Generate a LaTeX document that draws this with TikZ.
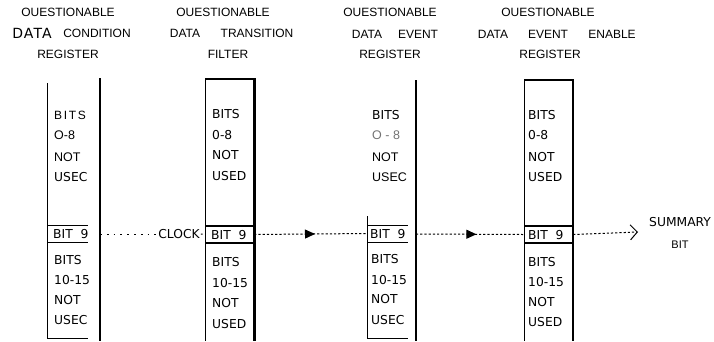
\documentclass[tikz,border=0pt]{standalone}
\usepackage{fontspec}
\setmainfont{Liberation Sans}
\newfontfamily\drafted{DejaVu Sans}
\newfontfamily\draftedwide[LetterSpace=8]{DejaVu Sans}
\newfontfamily\printwide[LetterSpace=14]{Liberation Sans}
\usetikzlibrary{arrows.meta,decorations.markings}

\tikzset{
  head/.style={inner sep=0pt, font=\fontsize{12}{12}\selectfont},
  prt/.style={inner sep=0pt, anchor=west, font=\fontsize{12.5}{13}\selectfont},
  drf/.style={inner sep=0pt, anchor=west, font=\drafted\fontsize{12.3}{13}\selectfont},
  wall/.style={line width=0.9pt},
  rowrule/.style={line width=1.5pt},
  flow/.style={line width=1pt, dash pattern=on 2.2pt off 2pt},
  sparse/.style={line width=1pt, dash pattern=on 1.8pt off 5pt},
  midtri/.style={postaction={decorate},
    decoration={markings, mark=at position #1 with {\arrow{Triangle[length=10pt,width=9pt]}}}},
  bitrow/.style={inner sep=0pt, minimum height=17pt}
}

\begin{document}
\begin{tikzpicture}[x=1pt, y=-1pt]
\useasboundingbox (0,0) rectangle (714,341);

% ---- column headings ----
\node[head] (h1a) at (68,12) {OUESTIONABLE};
\node[inner sep=0pt, font=\draftedwide\fontsize{14}{14}\selectfont] (h1b) at (32,33) {DATA};
\node[head] (h1c) at (97,33) {CONDITION};
\node[head] (h1d) at (68,54) {REGISTER};

\node[head] (h2a) at (223,12) {OUESTIONABLE};
\node[head] (h2b) at (185,33) {DATA};
\node[head] (h2c) at (257,33) {TRANSITION};
\node[head] (h2d) at (228,54) {FILTER};

\node[head] (h3a) at (390,12) {OUESTIONABLE};
\node[head] (h3b) at (367,34) {DATA};
\node[head] (h3c) at (418,34) {EVENT};
\node[head] (h3d) at (390,54) {REGISTER};

\node[head] (h4a) at (548,12) {OUESTIONABLE};
\node[head] (h4b) at (493,34) {DATA};
\node[head] (h4c) at (548,34) {EVENT};
\node[head] (h4d) at (612,34) {ENABLE};
\node[head] (h4e) at (550,54) {REGISTER};

% ---- condition register ----
\draw[wall] (47,83) -- (47,338) -- (88,338);
\draw[wall] (47,225) -- (88,225);
\draw[wall] (47,242) -- (88,242);
\draw[line width=2pt] (100,78) -- (100,341);
\node[bitrow, minimum width=41pt] (bit1) at (67.5,233.5) {};
\node[inner sep=0pt, anchor=west, font=\printwide\fontsize{12}{13}\selectfont] (c1a) at (54,115) {BITS};
\node[prt] (c1b) at (54,135) {O-8};
\node[prt] (c1c) at (54,157) {NOT};
\node[drf] (c1d) at (54,177) {USEC};
\node[drf] (c1e) at (53,234) {BIT\ \ 9};
\node[drf] (c1f) at (54,260) {BITS};
\node[drf] (c1g) at (54,280) {10-15};
\node[drf] (c1h) at (54,300) {NOT};
\node[drf] (c1i) at (54,320) {USEC};
\coordinate (out1) at (100,234);

% ---- transition filter ----
\draw[wall] (205,79) -- (205,341);
\draw[rowrule] (205,79) -- (254,79);
\draw[rowrule] (205,226) -- (254,226);
\draw[rowrule] (205,243) -- (254,243);
\draw[line width=3pt] (254,78) -- (254,341);
\node[bitrow, minimum width=49pt] (bit2) at (229.5,234.5) {};
\node[drf] (c2a) at (212,114) {BITS};
\node[drf] (c2b) at (212,135) {0-8};
\node[drf] (c2c) at (212,155) {NOT};
\node[drf] (c2d) at (212,176) {USED};
\node[drf] (c2e) at (211,235) {BIT\ \ 9};
\node[drf] (c2f) at (212,262) {BITS};
\node[drf] (c2g) at (212,283) {10-15};
\node[drf] (c2h) at (212,303) {NOT};
\node[drf] (c2i) at (212,324) {USED};

% ---- event register ----
\draw[wall] (367,216) -- (367,338) -- (408,338);
\draw[wall] (367,225) -- (408,225);
\draw[wall] (367,242) -- (408,242);
\draw[line width=2.4pt] (416,80) -- (416,341);
\node[bitrow, minimum width=41pt] (bit3) at (387.5,233.5) {};
\node[drf] (c3a) at (372,115) {BITS};
\node[prt, text=black!55] (c3b) at (372,135) {O - 8};
\node[prt] (c3c) at (372,157) {NOT};
\node[prt] (c3d) at (372,177) {USEC};
\node[drf] (c3e) at (370,234) {BIT\ \ 9};
\node[drf] (c3f) at (371,259) {BITS};
\node[drf] (c3g) at (371,280) {10-15};
\node[drf] (c3h) at (371,299) {NOT};
\node[drf] (c3i) at (371,320) {USEC};
\coordinate (out3) at (416,234);

% ---- event enable register ----
\draw[wall] (524,80) -- (524,341);
\draw[rowrule] (524,80) -- (573,80);
\draw[rowrule] (524,226) -- (573,226);
\draw[rowrule] (524,243) -- (573,243);
\draw[line width=2.8pt] (573,79) -- (573,341);
\node[bitrow, minimum width=49pt] (bit4) at (548.5,234.5) {};
\node[drf] (c4a) at (528,115) {BITS};
\node[drf] (c4b) at (528,135) {0-8};
\node[drf] (c4c) at (528,157) {NOT};
\node[drf] (c4d) at (528,177) {USED};
\node[drf] (c4e) at (528,235) {BIT\ \ 9};
\node[drf] (c4f) at (528,262) {BITS};
\node[drf] (c4g) at (528,282) {10-15};
\node[drf] (c4h) at (528,302) {NOT};
\node[drf] (c4i) at (528,322) {USED};

% ---- summary output ----
\node[drf] (sum) at (649,222) {SUMMARY};
\node[inner sep=0pt, font=\fontsize{11}{12}\selectfont] (sumbit) at (680,245) {BIT};
\coordinate (sumtip) at (638,232);

% ---- signal flow ----
\node[inner sep=1pt, fill=white, font=\drafted\fontsize{12.3}{13}\selectfont] (clock) at (179,234) {CLOCK};
\draw[sparse] (out1) -- (clock.west);
\draw[sparse] (clock.east) -- (bit2.west);
\draw[flow, midtri=0.54] (bit2.east) -- (bit3.west);
\draw[flow, midtri=0.56] (out3) -- (bit4.west);
\draw[flow, -{Straight Barb[length=7pt,width=15pt,line width=1pt]}] (bit4.east) -- (sumtip);
\end{tikzpicture}
\end{document}
